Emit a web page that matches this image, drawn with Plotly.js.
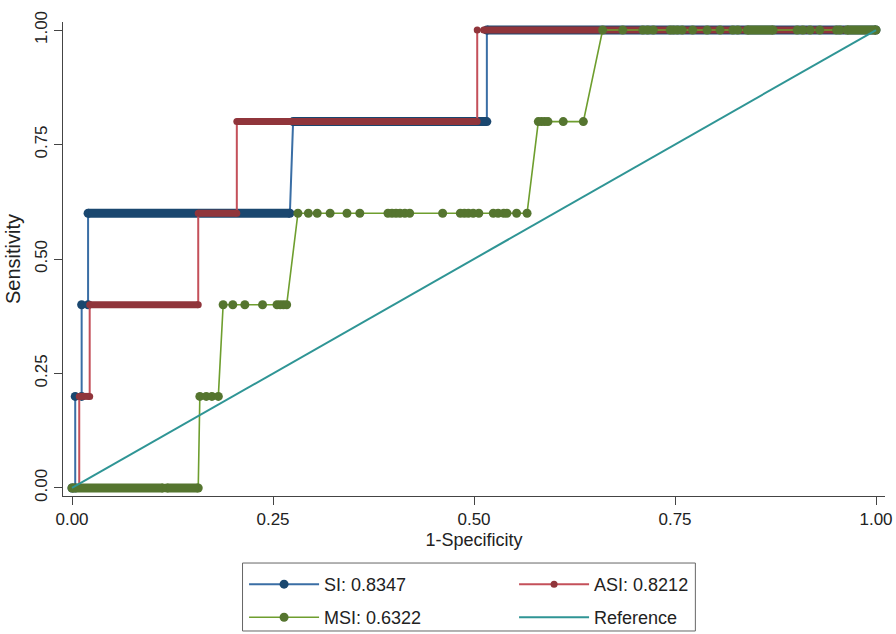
<!DOCTYPE html>
<html>
<head>
<meta charset="utf-8">
<script src="https://cdn.plot.ly/plotly-3.0.1.min.js"></script>
<style>html,body{margin:0;padding:0;background:#fff;}#chart{width:896px;height:634px;}</style>
</head>
<body>
<div id="chart"></div>
<script>
// ---- SI (blue): ROC vertices (1-specificity, sensitivity)
var SI_fpr  = [0, 0.004, 0.004, 0.012, 0.012, 0.020, 0.020, 0.271, 0.275, 0.516, 0.516, 1.000];
var SI_sens = [0, 0, 0.2, 0.2, 0.4, 0.4, 0.6, 0.6, 0.8, 0.8, 1.0, 1.0];
// SI runs of densely packed points (start, end, sensitivity)
var SI_run_from = [0.020, 0.275, 0.516];
var SI_run_to   = [0.271, 0.516, 1.000];
var SI_run_sens = [0.6, 0.8, 1.0];

// ---- ASI (red)
var ASI_fpr  = [0, 0.009, 0.009, 0.022, 0.022, 0.157, 0.157, 0.205, 0.205, 0.504, 0.504, 0.512, 1.000];
var ASI_sens = [0, 0, 0.2, 0.2, 0.4, 0.4, 0.6, 0.6, 0.8, 0.8, 1.0, 1.0, 1.0];
var ASI_run_from = [0.009, 0.022, 0.157, 0.205, 0.512];
var ASI_run_to   = [0.022, 0.157, 0.205, 0.504, 1.000];
var ASI_run_sens = [0.2, 0.4, 0.6, 0.8, 1.0];

// ---- MSI (green)
var MSI_fpr = [0, 0.113, 0.118, 0.157,
  0.159, 0.167, 0.174, 0.182,
  0.188, 0.200, 0.215, 0.237, 0.255, 0.259, 0.263, 0.267,
  0.281, 0.294, 0.305, 0.321, 0.342, 0.358, 0.393, 0.398, 0.403, 0.408, 0.414, 0.420,
  0.461, 0.483, 0.488, 0.493, 0.499, 0.506, 0.524, 0.530, 0.537, 0.541, 0.553, 0.566,
  0.580, 0.584, 0.588, 0.592, 0.611, 0.636,
  0.660, 0.685, 0.710, 0.716, 0.723, 0.744, 0.748, 0.753, 0.759, 0.772, 0.790, 0.806,
  0.822, 0.828, 0.840, 0.872, 0.902, 0.909, 0.918, 0.930, 0.951, 0.955, 0.964, 1.000];
var MSI_sens = [0, 0, 0, 0,
  0.2, 0.2, 0.2, 0.2,
  0.4, 0.4, 0.4, 0.4, 0.4, 0.4, 0.4, 0.4,
  0.6, 0.6, 0.6, 0.6, 0.6, 0.6, 0.6, 0.6, 0.6, 0.6, 0.6, 0.6,
  0.6, 0.6, 0.6, 0.6, 0.6, 0.6, 0.6, 0.6, 0.6, 0.6, 0.6, 0.6,
  0.8, 0.8, 0.8, 0.8, 0.8, 0.8,
  1.0, 1.0, 1.0, 1.0, 1.0, 1.0, 1.0, 1.0, 1.0, 1.0, 1.0, 1.0,
  1.0, 1.0, 1.0, 1.0, 1.0, 1.0, 1.0, 1.0, 1.0, 1.0, 1.0, 1.0];
var MSI_run_from = [0.000, 0.118, 0.840, 0.964];
var MSI_run_to   = [0.113, 0.157, 0.872, 1.000];
var MSI_run_sens = [0.0, 0.0, 1.0, 1.0];

// ---- Reference line
var REF_x = [0, 1];
var REF_y = [0, 1];

var seriesNames = ['SI: 0.8347', 'ASI: 0.8212', 'MSI: 0.6322', 'Reference'];

function runTrace(from, to, lvl, color, w) {
  var x = [], y = [];
  for (var i = 0; i < from.length; i++) {
    x.push(from[i], to[i], null);
    y.push(lvl[i], lvl[i], null);
  }
  return {x: x, y: y, type: 'scatter', mode: 'lines', showlegend: false, hoverinfo: 'skip',
          line: {color: color, width: w}, connectgaps: false};
}

var traces = [
  {x: SI_fpr, y: SI_sens, type: 'scatter', mode: 'lines+markers', name: seriesNames[0], legend: 'legend',
   line: {color: '#3a6ea5', width: 2}, marker: {color: '#1a476f', size: 9}},
  runTrace(SI_run_from, SI_run_to, SI_run_sens, '#1a476f', 9),
  {x: ASI_fpr, y: ASI_sens, type: 'scatter', mode: 'lines+markers', name: seriesNames[1], legend: 'legend',
   line: {color: '#c4505a', width: 2}, marker: {color: '#90353b', size: 7}},
  runTrace(ASI_run_from, ASI_run_to, ASI_run_sens, '#90353b', 7),
  {x: MSI_fpr, y: MSI_sens, type: 'scatter', mode: 'lines+markers', name: seriesNames[2], legend: 'legend2',
   line: {color: '#6e9e2e', width: 1.6}, marker: {color: '#55752f', size: 9}},
  runTrace(MSI_run_from, MSI_run_to, MSI_run_sens, '#55752f', 9),
  {x: REF_x, y: REF_y, type: 'scatter', mode: 'lines', name: seriesNames[3], legend: 'legend2',
   line: {color: '#2f9595', width: 2}}
];

var fam = 'Liberation Sans, Arial, sans-serif';
var tickFont = {family: fam, size: 17, color: '#222'};
function legendRow(yTop) {
  return {
    orientation: 'h', xref: 'container', yref: 'container',
    x: 0.2724, xanchor: 'left', y: yTop, yanchor: 'top',
    borderwidth: 0, bgcolor: 'rgba(0,0,0,0)',
    font: {family: fam, size: 18, color: '#222'},
    itemwidth: 70,
    entrywidth: 185, entrywidthmode: 'pixels', traceorder: 'normal'
  };
}
var layout = {
  width: 896, height: 634,
  margin: {l: 63, r: 11, t: 22, b: 138, autoexpand: false},
  paper_bgcolor: '#fff', plot_bgcolor: '#fff',
  showlegend: true,
  xaxis: {
    range: [-0.0112, 1.0112], tickvals: [0, 0.25, 0.5, 0.75, 1], tickformat: '.2f',
    showgrid: false, zeroline: false, showline: true, linecolor: '#444', linewidth: 1,
    ticks: 'outside', ticklen: 8, tickcolor: '#444', tickfont: tickFont,
    title: {text: '1-Specificity', font: {family: fam, size: 18, color: '#222'}, standoff: 4}
  },
  yaxis: {
    range: [-0.0175, 1.0175], tickvals: [0, 0.25, 0.5, 0.75, 1], tickformat: '.2f',
    showgrid: false, zeroline: false, showline: true, linecolor: '#444', linewidth: 1,
    ticks: 'outside', ticklen: 8, tickcolor: '#444', tickfont: tickFont, tickangle: -90,
    title: {text: 'Sensitivity', font: {family: fam, size: 20, color: '#222'}, standoff: 6}
  },
  legend: legendRow(0.1073),
  legend2: legendRow(0.0552),
  shapes: [{
    type: 'rect', xref: 'paper', yref: 'paper',
    x0: 0.2184, x1: 0.7693, y0: -0.2848, y1: -0.1414,
    line: {color: '#666', width: 1}, fillcolor: 'rgba(0,0,0,0)', layer: 'below'
  }]
};

Plotly.newPlot('chart', traces, layout, {displayModeBar: false, staticPlot: true});
</script>
</body>
</html>
